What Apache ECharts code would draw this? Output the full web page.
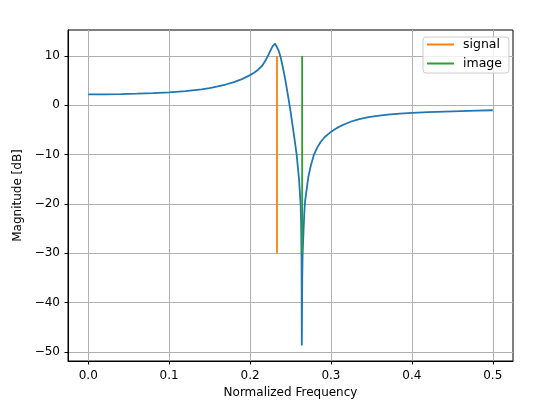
<!DOCTYPE html>
<html>
<head>
<meta charset="utf-8">
<script src="https://cdn.jsdelivr.net/npm/echarts@6/dist/echarts.min.js"></script>
<style>
html,body{margin:0;padding:0;background:#fff;}
#chart{width:540px;height:405px;}
</style>
</head>
<body>
<div id="chart"></div>
<script>
const freq = [0, 0.02, 0.04, 0.06, 0.08, 0.1, 0.12, 0.14, 0.15, 0.16, 0.17, 0.18, 0.19, 0.2, 0.205, 0.21, 0.215, 0.22, 0.225, 0.228, 0.231, 0.233, 0.2355, 0.238, 0.24, 0.242, 0.244, 0.246, 0.248, 0.25, 0.2531, 0.2555, 0.2576, 0.2605, 0.2626, 0.2632, 0.2637, 0.264, 0.2645, 0.265, 0.266, 0.267, 0.268, 0.27, 0.272, 0.275, 0.279, 0.283, 0.287, 0.292, 0.3, 0.308, 0.316, 0.325, 0.335, 0.345, 0.355, 0.37, 0.385, 0.4, 0.42, 0.44, 0.46, 0.48, 0.5];
const magnitude = [2.2, 2.22, 2.27, 2.35, 2.45, 2.6, 2.85, 3.2, 3.45, 3.8, 4.2, 4.7, 5.3, 6.1, 6.6, 7.2, 8.0, 9.3, 11.0, 12.0, 12.5, 12.3, 11.0, 9.6, 8.1, 6.5, 4.8, 2.8, 0.9, -1.2, -4.7, -7.5, -10, -14.9, -20.3, -25, -32, -48.7, -35, -30, -26, -22, -19.5, -17, -14.6, -12.3, -10, -8.6, -7.5, -6.5, -5.4, -4.55, -3.9, -3.3, -2.8, -2.45, -2.2, -1.9, -1.7, -1.55, -1.4, -1.28, -1.18, -1.1, -1.02];
const signalX = [0.2333, 0.2333];
const signalY = [-30, 10];
const imageX = [0.2644, 0.2644];
const imageY = [-30, 10];
const xTicks = [0, 0.1, 0.2, 0.3, 0.4, 0.5];
const yTicks = [-50, -40, -30, -20, -10, 0, 10];

const zip = (xs, ys) => xs.map((x, i) => [x, ys[i]]);
const FONT = 'DejaVu Sans';
const chart = echarts.init(document.getElementById('chart'), null, {renderer: 'canvas'});
chart.setOption({
  animation: false,
  backgroundColor: '#fff',
  textStyle: {fontFamily: FONT},
  grid: {left: 68, right: 27, top: 30, bottom: 44, show: true, borderColor: '#000', borderWidth: 1, backgroundColor: 'transparent'},
  legend: {
    orient: 'vertical', left: 423, top: 37,
    data: ['signal', 'image'],
    icon: 'rect', itemWidth: 27, itemHeight: 2, itemGap: 6,
    padding: [1, 7, 3, 4],
    borderColor: '#cccccc', borderWidth: 1, borderRadius: 3,
    backgroundColor: 'rgba(255,255,255,0.8)',
    textStyle: {fontFamily: FONT, fontSize: 12.5, color: '#000', padding: [0, 0, 0, 4]}
  },
  xAxis: {
    type: 'value', min: -0.025, max: 0.525,
    name: 'Normalized Frequency', nameLocation: 'middle', nameGap: 25,
    nameTextStyle: {fontFamily: FONT, fontSize: 12, color: '#000'},
    axisLine: {show: true, onZero: false, lineStyle: {color: '#000', width: 1}},
    axisTick: {show: true, length: 3.5, customValues: xTicks, lineStyle: {color: '#000'}},
    axisLabel: {customValues: xTicks, margin: 9, fontFamily: FONT, fontSize: 12, color: '#000', formatter: v => v.toFixed(1)},
    splitLine: {show: true, lineStyle: {color: '#b0b0b0', width: 1}}
  },
  yAxis: {
    type: 'value', min: -51.85, max: 15.25,
    name: 'Magnitude [dB]', nameLocation: 'middle', nameGap: 40,
    nameTextStyle: {fontFamily: FONT, fontSize: 12, color: '#000'},
    axisLine: {show: true, onZero: false, lineStyle: {color: '#000', width: 1}},
    axisTick: {show: true, length: 3.5, customValues: yTicks, lineStyle: {color: '#000'}},
    axisLabel: {customValues: yTicks, margin: 8, fontFamily: FONT, fontSize: 12, color: '#000', formatter: v => String(v).replace('-', '\u2212')},
    splitLine: {show: true, lineStyle: {color: '#b0b0b0', width: 1}}
  },
  series: [
    {name: 'response', type: 'line', data: zip(freq, magnitude), showSymbol: false, symbol: 'none', lineStyle: {color: '#1f77b4', width: 1.8}, itemStyle: {color: '#1f77b4'}, z: 2},
    {name: 'signal', type: 'line', data: zip(signalX, signalY), showSymbol: false, symbol: 'none', lineStyle: {color: '#ff7f0e', width: 1.8}, itemStyle: {color: '#ff7f0e'}, z: 3},
    {name: 'image', type: 'line', data: zip(imageX, imageY), showSymbol: false, symbol: 'none', lineStyle: {color: '#2ca02c', width: 1.8}, itemStyle: {color: '#2ca02c'}, z: 4}
  ]
});
</script>
</body>
</html>
